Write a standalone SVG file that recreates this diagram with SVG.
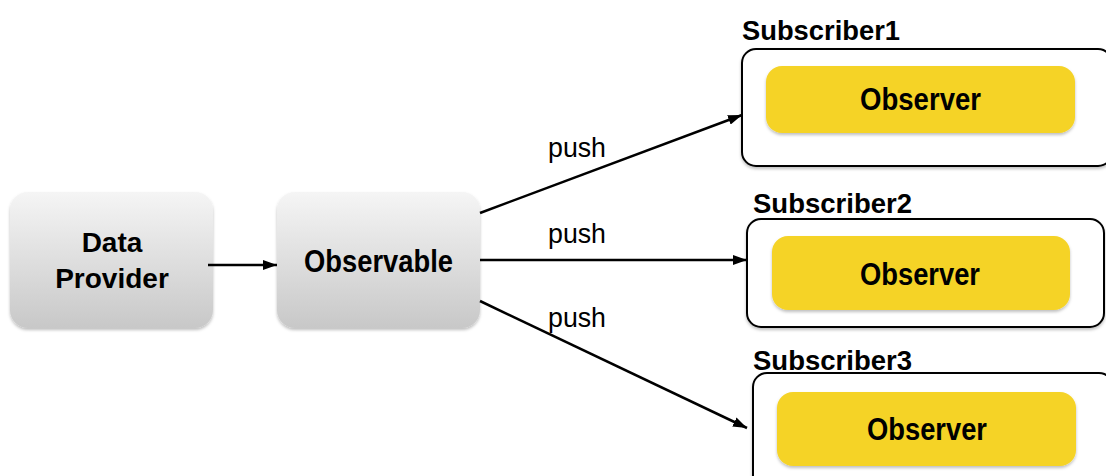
<svg xmlns="http://www.w3.org/2000/svg" width="1106" height="476" viewBox="0 0 1106 476">
  <defs>
    <linearGradient id="grayFill" x1="0" y1="0" x2="0" y2="1">
      <stop offset="0" stop-color="#f5f5f5"/>
      <stop offset="1" stop-color="#c8c8c8"/>
    </linearGradient>
    <filter id="soft" x="-10%" y="-10%" width="120%" height="125%">
      <feDropShadow dx="0" dy="2" stdDeviation="1.5" flood-color="#000" flood-opacity="0.25"/>
    </filter>
    <marker id="arrow" viewBox="0 0 14 10" refX="14" refY="5" markerWidth="14" markerHeight="10" markerUnits="userSpaceOnUse" orient="auto">
      <path d="M0,0 L14,5 L0,10 Z" fill="#000"/>
    </marker>
  </defs>
  <style>
    .gray { fill: url(#grayFill); filter: url(#soft); }
    .frame { fill: #fff; stroke: #000; stroke-width: 2; filter: url(#soft); }
    .obs { fill: #f5d327; filter: url(#soft); }
    .bold { font-family: "Liberation Sans", Arial, sans-serif; font-weight: bold; fill: #000; }
    .node { font-size: 31px; text-anchor: middle; }
    .title { font-size: 28.5px; }
    .label { font-family: "Liberation Sans", Arial, sans-serif; font-size: 28px; fill: #000; }
    .wire { stroke: #000; stroke-width: 2.5; fill: none; marker-end: url(#arrow); }
  </style>

  <rect width="1106" height="476" fill="#fff"/>

  <g id="data-provider">
    <rect class="gray" x="10" y="192" width="203" height="136" rx="18"/>
    <text class="bold node" x="112" y="252" style="font-size:28px">Data</text>
    <text class="bold node" x="112" y="288" style="font-size:28px">Provider</text>
  </g>

  <g id="observable">
    <rect class="gray" x="277" y="192" width="203" height="136" rx="18"/>
    <text class="bold node" x="378.5" y="272" textLength="149" lengthAdjust="spacingAndGlyphs">Observable</text>
  </g>

  <g id="subscriber1">
    <text class="bold title" x="742" y="40" textLength="158" lengthAdjust="spacingAndGlyphs">Subscriber1</text>
    <rect class="frame" x="742" y="49" width="370" height="117" rx="14"/>
    <rect class="obs" x="766" y="66" width="309" height="67" rx="16"/>
    <text class="bold node" x="920.5" y="110" textLength="121" lengthAdjust="spacingAndGlyphs">Observer</text>
  </g>

  <g id="subscriber2">
    <text class="bold title" x="753" y="213" textLength="159" lengthAdjust="spacingAndGlyphs">Subscriber2</text>
    <rect class="frame" x="747" y="219" width="357" height="108" rx="14"/>
    <rect class="obs" x="772" y="236" width="298" height="74" rx="16"/>
    <text class="bold node" x="920" y="285" textLength="120" lengthAdjust="spacingAndGlyphs">Observer</text>
  </g>

  <g id="subscriber3">
    <text class="bold title" x="753" y="370" textLength="159" lengthAdjust="spacingAndGlyphs">Subscriber3</text>
    <rect class="frame" x="753" y="373" width="360" height="120" rx="14"/>
    <rect class="obs" x="777" y="392" width="299" height="74" rx="16"/>
    <text class="bold node" x="927" y="440" textLength="120" lengthAdjust="spacingAndGlyphs">Observer</text>
  </g>

  <g id="connectors">
    <line class="wire" x1="208" y1="265" x2="277" y2="265"/>
    <line class="wire" x1="480" y1="213" x2="742" y2="115"/>
    <line class="wire" x1="480" y1="260" x2="747" y2="260"/>
    <line class="wire" x1="480" y1="301" x2="747" y2="428"/>
    <text class="label" x="548" y="157" textLength="58" lengthAdjust="spacingAndGlyphs">push</text>
    <text class="label" x="548" y="243" textLength="58" lengthAdjust="spacingAndGlyphs">push</text>
    <text class="label" x="548" y="327" textLength="58" lengthAdjust="spacingAndGlyphs">push</text>
  </g>
</svg>
